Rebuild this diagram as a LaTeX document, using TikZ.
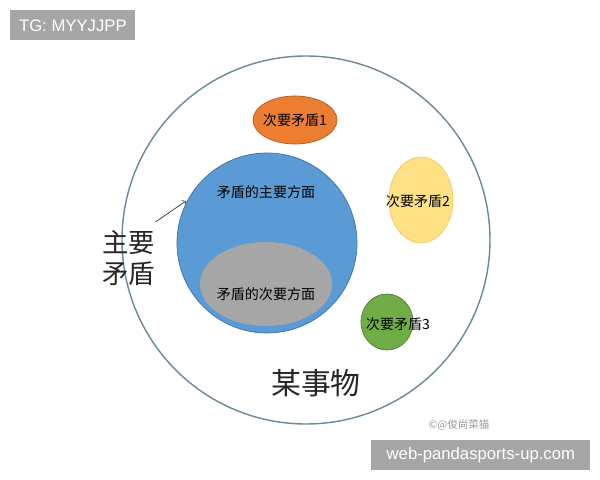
\documentclass[tikz,border=0pt]{standalone}
\usepackage{fontspec}
\setmainfont{Liberation Sans}
\newfontfamily\cjk{Noto Sans CJK SC}
\definecolor{bluef}{HTML}{5B9BD5}
\definecolor{blued}{HTML}{41719C}
\definecolor{orangef}{HTML}{ED7D31}
\definecolor{oranged}{HTML}{AE5A21}
\definecolor{yellowf}{HTML}{FFD966}
\definecolor{yellowd}{HTML}{F4C860}
\definecolor{greenf}{HTML}{70AD47}
\definecolor{greend}{HTML}{507E32}
\definecolor{ringc}{HTML}{6A8A9A}
\begin{document}
\begin{tikzpicture}[x=0.02cm,y=-0.02cm,
 lbl/.style={font=\cjk\fontsize{8}{9}\selectfont,text=black},
 big/.style={font=\cjk\fontsize{15}{18}\selectfont,align=center,text=black!85},
 tag/.style={fill=black!35,text=white,font=\fontsize{9.5}{11}\selectfont,inner sep=0pt,anchor=north west}]
\useasboundingbox (0,0) rectangle (600,480);
\fill[white] (0,0) rectangle (600,480);
\node[tag,minimum width=125*0.02cm,minimum height=30*0.02cm] (tg) at (10,10) {TG: MYYJJPP};
\draw[ringc,thick] (306,240) circle[radius=184*0.02cm];
\draw[blued,fill=bluef] (267,243) circle[radius=90*0.02cm];
\begin{scope}
\clip (267,243) circle[radius=90*0.02cm];
\fill[black!35] (266,284) ellipse[x radius=66*0.02cm,y radius=42*0.02cm];
\end{scope}
\node[lbl] (zy) at (266,192) {矛盾的主要方面};
\node[lbl] (cy) at (266,294) {矛盾的次要方面};
\draw[oranged,fill=orangef] (295,120) ellipse[x radius=42*0.02cm,y radius=24*0.02cm];
\node[lbl] (c1) at (295,120) {次要矛盾1};
\draw[yellowd,fill=yellowf!80!white] (421,200) ellipse[x radius=32*0.02cm,y radius=43*0.02cm];
\node[lbl] (c2) at (418,201) {次要矛盾2};
\draw[greend,fill=greenf] (387,322) ellipse[x radius=26*0.02cm,y radius=28*0.02cm];
\node[lbl] (c3) at (398,324) {次要矛盾3};
\node[big] (main) at (129,258) {主要\\矛盾};
\coordinate (tip) at (186,201);
\draw[->,black!80] (main.north east) ++(-6,-2) -- (tip);
\node[font=\cjk\fontsize{17}{20}\selectfont,text=black!85] (thing) at (316,383) {某事物};
\node[font=\cjk\fontsize{6}{7}\selectfont,text=black!40] (wm) at (459,425) {©@俊尚菜猫};
\node[tag,minimum width=219*0.02cm,minimum height=30*0.02cm] (web) at (371,440) {web-pandasports-up.com};
\end{tikzpicture}
\end{document}
